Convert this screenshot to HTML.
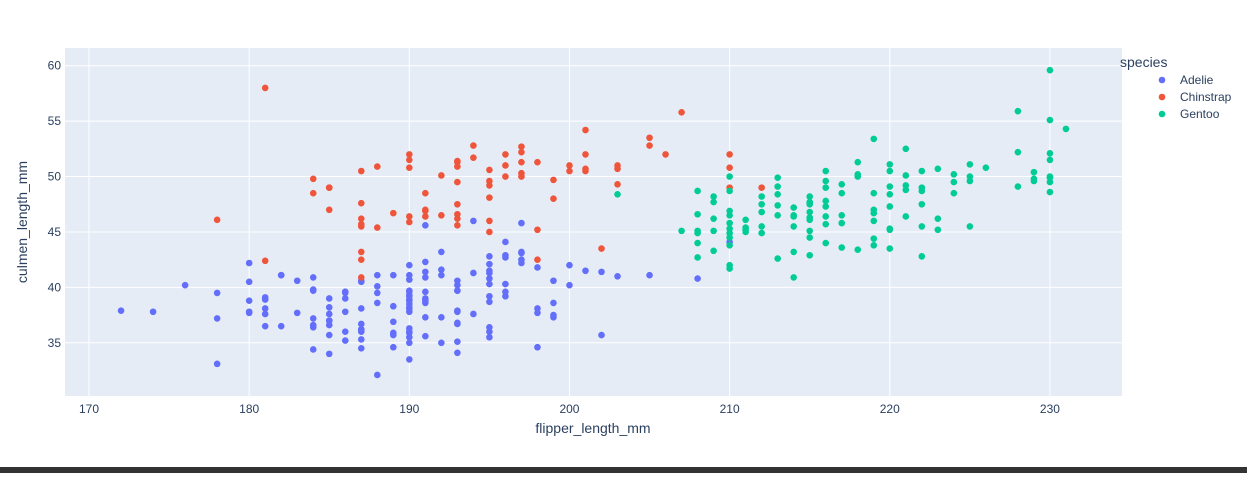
<!DOCTYPE html>
<html><head><meta charset="utf-8"><style>
body{margin:0;background:#fff;width:1247px;height:473px;overflow:hidden;font-family:"Liberation Sans",sans-serif}
svg text{font-family:"Liberation Sans",sans-serif;fill:#2a3f5f}
</style></head><body>
<svg id="chart" width="1247" height="473" xmlns="http://www.w3.org/2000/svg">
<rect x="65" y="48" width="1057" height="348" fill="#e5ecf6"/>
<g id="grid"></g>
<g id="ticks"></g>
<g id="points"></g>
<text x="593" y="433" font-size="14" text-anchor="middle">flipper_length_mm</text>
<text x="27" y="222" font-size="14" text-anchor="middle" transform="rotate(-90 27 222)">culmen_length_mm</text>
<g>
<text x="1120" y="67" font-size="14">species</text>
<g><circle cx="1162" cy="80" r="3.3" fill="#636efa"/><text x="1180" y="84" font-size="12">Adelie</text></g>
<g><circle cx="1162" cy="97" r="3.3" fill="#EF553B"/><text x="1180" y="101" font-size="12">Chinstrap</text></g>
<g><circle cx="1162" cy="114" r="3.3" fill="#00cc96"/><text x="1180" y="118" font-size="12">Gentoo</text></g>
</g>
<rect x="0" y="467" width="1247" height="6" fill="#333"/>
</svg>
<script>
const xTicks=[170,180,190,200,210,220,230];
const yTicks=[35,40,45,50,55,60];
const adelieFlipper=[181,186,195,193,190,181,195,193,190,186,180,182,191,198,185,195,197,184,194,174,180,189,185,180,187,183,187,172,180,178,178,188,184,195,196,190,180,181,184,182,195,186,196,185,190,182,190,191,186,188,190,200,187,191,186,193,181,194,185,195,185,192,184,192,195,188,190,198,190,190,196,197,190,195,191,184,187,195,189,196,187,193,191,194,190,189,189,190,202,205,185,186,187,208,190,196,178,192,192,203,183,190,193,184,199,190,181,197,198,191,193,197,191,196,188,199,189,189,187,198,176,202,186,199,191,195,191,210,190,197,193,199,187,190,191,200,185,193,193,187,188,190,192,185,190,184,195,193,187,201];
const adelieCulmen=[39.1,39.5,40.3,36.7,39.3,38.9,39.2,34.1,42.0,37.8,37.8,41.1,38.6,34.6,36.6,38.7,42.5,34.4,46.0,37.8,37.7,35.9,38.2,38.8,35.3,40.6,40.5,37.9,40.5,39.5,37.2,39.5,40.9,36.4,39.2,38.8,42.2,37.6,39.8,36.5,40.8,36.0,44.1,37.0,39.6,41.1,36.0,42.3,39.6,40.1,35.0,42.0,34.5,41.4,39.0,40.6,36.5,37.6,35.7,41.3,37.6,41.1,36.4,41.6,35.5,41.1,35.9,41.8,33.5,39.7,39.6,45.8,35.5,42.8,40.9,37.2,36.2,42.1,34.6,42.9,36.7,35.1,37.3,41.3,36.3,36.9,38.3,38.9,35.7,41.1,34.0,39.6,36.2,40.8,38.1,40.3,33.1,43.2,35.0,41.0,37.7,37.8,37.9,39.7,38.6,38.2,38.1,43.2,38.1,45.6,39.7,42.2,39.6,42.7,38.6,37.3,35.7,41.1,36.2,37.7,40.2,41.4,35.2,40.6,38.8,41.5,39.0,44.1,38.5,43.1,36.8,37.5,38.1,41.1,35.6,40.2,37.0,39.7,40.2,40.6,32.1,40.7,37.3,39.0,39.2,36.6,36.0,37.8,36.0,41.5];
const chinFlipper=[192,196,193,188,197,198,178,197,195,198,193,194,185,201,190,201,197,181,190,195,181,184,187,195,189,196,187,193,191,194,187,201,198,200,199,193,187,190,191,205,185,193,193,187,188,190,192,185,190,184,195,193,187,201,207,205,206,210,210,210,212,202,203,203,203,200,197,196,195,191,187,187,193,191,195,197,199];
const chinCulmen=[46.5,50.0,51.3,45.4,52.7,45.2,46.1,51.3,46.0,51.3,46.6,51.7,47.0,52.0,45.9,50.5,50.3,58.0,46.4,49.2,42.4,48.5,43.2,50.6,46.7,52.0,50.5,49.5,46.4,52.8,40.9,54.2,42.5,51.0,49.7,47.5,47.6,52.0,46.9,53.5,49.0,46.2,50.9,45.5,50.9,50.8,50.1,49.0,51.5,49.8,48.1,51.4,45.7,50.7,55.8,52.8,52.0,52.0,50.8,49.0,49.0,43.5,51.0,50.7,49.3,50.5,52.2,51.0,49.6,48.5,42.5,46.2,45.6,47.0,45.0,50.0,48.0];
const gentooFlipper=[211,230,210,218,215,210,211,219,209,215,214,216,214,213,210,217,210,221,209,222,218,215,213,215,215,215,215,216,215,210,220,222,209,230,220,220,213,219,208,208,208,225,210,216,222,217,225,220,208,220,208,224,208,221,214,231,219,230,214,229,220,223,216,228,230,219,221,228,230,226,224,225,229,230,230,228,224,222,223,223,217,216,213,212,212,211,209,210,210,212,213,214,214,216,217,218,218,219,220,220,222,221,216,219,230,210,212,215,217,212,225,210,211,213,229,207,209,210,215,216,219,221,222,203];
const gentooCulmen=[46.1,50.0,48.7,50.0,47.6,46.5,45.4,46.7,43.3,46.8,40.9,49.0,45.5,48.4,45.8,49.3,42.0,49.2,46.2,48.7,50.2,45.1,46.5,46.3,42.9,46.1,44.5,47.8,48.2,50.0,47.3,42.8,45.1,59.6,49.1,48.4,42.6,44.4,44.0,48.7,42.7,49.6,45.3,49.6,50.5,43.6,45.5,50.5,44.9,45.2,46.6,48.5,45.1,50.1,46.5,54.3,43.8,49.5,43.2,50.4,45.3,46.2,45.7,55.9,55.1,53.4,52.5,52.2,52.1,50.8,50.2,51.1,49.8,49.9,48.6,49.1,49.5,47.5,50.7,45.2,45.8,50.5,47.4,47.5,44.9,45.2,48.2,44.5,43.8,46.8,49.9,47.2,46.4,47.3,48.5,51.3,43.4,48.5,51.1,43.5,49.0,46.4,44.0,46.0,51.5,41.7,45.5,47.7,46.5,48.2,50.0,44.9,45.0,49.1,49.6,45.1,47.7,46.9,47.5,46.4,47.0,48.8,45.5,48.4];

const X0=65,X1=1122,Y0=48,Y1=396,XMIN=168.5,XMAX=234.5,YMIN=30.2,YMAX=61.6;
const sx=v=>X0+(v-XMIN)/(XMAX-XMIN)*(X1-X0);
const sy=v=>Y1-(v-YMIN)/(YMAX-YMIN)*(Y1-Y0);
const NS='http://www.w3.org/2000/svg';
function mk(tag,attrs,parent){const e=document.createElementNS(NS,tag);for(const k in attrs)e.setAttribute(k,attrs[k]);parent.appendChild(e);return e;}
const grid=document.getElementById('grid'),ticks=document.getElementById('ticks'),pts=document.getElementById('points');
xTicks.forEach(t=>{
  const l=mk('line',{x1:sx(t),x2:sx(t),y1:Y0,y2:Y1,stroke:'#fff','stroke-width':1},grid);
  
  
  const tx=mk('text',{x:sx(t),y:Y1+17,'font-size':12,'text-anchor':'middle'},ticks);
  tx.textContent=t;
  
  
});
yTicks.forEach(t=>{
  const l=mk('line',{x1:X0,x2:X1,y1:sy(t),y2:sy(t),stroke:'#fff','stroke-width':1},grid);
  
  
  const tx=mk('text',{x:X0-4,y:sy(t)+4,'font-size':12,'text-anchor':'end'},ticks);
  tx.textContent=t;
  
  
});
function series(fx,fy,color,name){
  fx.forEach((f,i)=>{
    const c=mk('circle',{cx:sx(f),cy:sy(fy[i]),r:3.3,fill:color},pts);
    
    
  });
}
series(adelieFlipper,adelieCulmen,'#636efa','adelie');
series(chinFlipper,chinCulmen,'#EF553B','chinstrap');
series(gentooFlipper,gentooCulmen,'#00cc96','gentoo');
</script>
</body></html>
